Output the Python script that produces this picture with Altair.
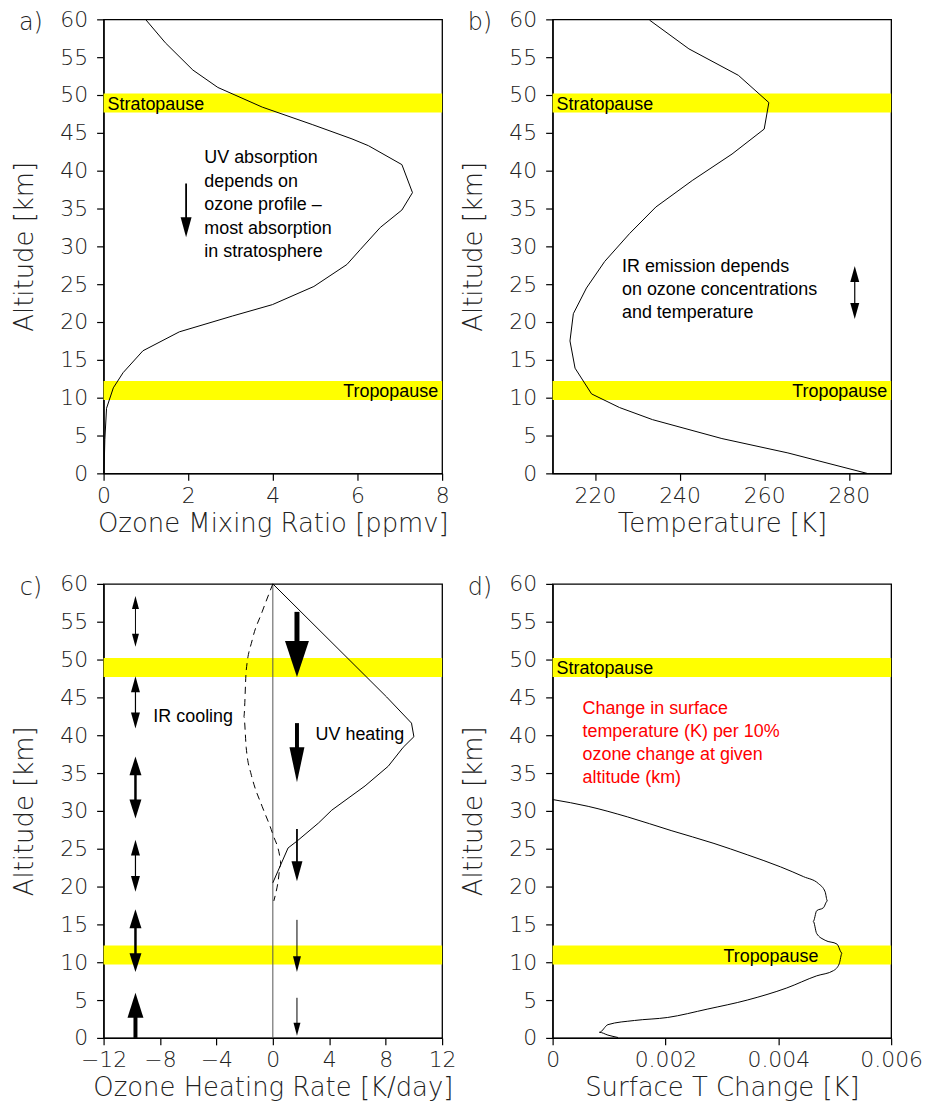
import altair as alt
import pandas as pd

# ------------------------------------------------------------------ data
# a) ozone mixing ratio profile
ozone_km = [60, 56.9, 53.3, 51.0, 48.4, 46.1, 44.2, 43.3, 40.8, 37.1, 34.8, 32.5,
            29.6, 27.6, 24.7, 22.3, 20.8, 18.7, 16.2, 13.3, 11.3, 8.6, 4.5, 0]
ozone_ppmv = [0.99, 1.46, 2.11, 2.70, 3.75, 4.93, 5.87, 6.26, 7.05, 7.30, 7.05, 6.54,
              6.07, 5.75, 4.97, 3.99, 3.05, 1.79, 0.93, 0.46, 0.23, 0.07, 0.03, 0.01]

# b) temperature profile
temp_km = [59.9, 56.1, 52.6, 49.0, 45.5, 42.2, 38.7, 35.2, 31.7, 28.0, 24.5, 21.1,
           17.5, 13.9, 10.5, 8.7, 7.1, 4.6, 2.7, 0]
temp_K = [232.9, 242.2, 253.9, 261.1, 260.0, 252.4, 243.0, 234.4, 228.2, 222.3, 218.0,
          214.9, 214.1, 215.3, 219.2, 225.8, 233.6, 250.0, 265.6, 284.3]

# c) ozone heating (UV, solid) and IR cooling (dashed)
uv_km = [60, 45.05, 41.6, 39.8, 38.4, 35.9, 33.3, 30.1, 28.4, 26.0, 25.1, 20.5]
uv_rate = [0.0, 8.07, 9.83, 10.0, 9.24, 8.18, 6.54, 4.18, 3.24, 1.71, 1.08, 0.0]
ir_km = [60, 56.3, 52.6, 48.5, 42.5, 38.4, 34.7, 33.5, 30.6, 26.9, 23.4, 22.8, 20.4, 18.1]
ir_rate = [0.0, -0.76, -1.46, -1.89, -2.05, -1.89, -1.52, -1.34, -0.76, 0.0, 0.54,
           0.55, 0.35, 0.07]

# d) surface temperature change per 10% ozone change
dts_km = [31.5, 30.6, 29.2, 27.4, 25.7, 24.2, 22.6, 21.3, 20.4, 19.3, 18.1, 17.2, 16.8,
          15.4, 13.8, 12.9, 12.4, 11.2, 9.8, 8.9, 8.2, 6.6, 5.0, 3.8, 2.7, 2.3, 1.75,
          0.74, 0.37, 0.05]
dts_K = [0.0, 0.00063, 0.00133, 0.0021, 0.00286, 0.00345, 0.00404, 0.00445, 0.00471,
         0.00483, 0.00487, 0.0048, 0.00468, 0.00462, 0.00468, 0.00483, 0.00504, 0.00513,
         0.00508, 0.00498, 0.00468, 0.00415, 0.00345, 0.00274, 0.00204, 0.00145,
         0.00098, 0.00083, 0.00098, 0.00116]

# layers
band_names = ["Stratopause", "Tropopause"]
band_lo = [47.7, 9.7]
band_hi = [50.2, 12.2]

# arrows: panel, x, top km, bottom km, heads, weight
arrow_panel = ["a", "b", "c", "c", "c", "c", "c", "c", "c", "c", "c", "c", "c"]
arrow_x = [1.95, 281.4, -9.74, -9.74, -9.74, -9.74, -9.74, -9.74, 1.71, 1.71, 1.71, 1.71, 1.71]
arrow_top = [38.3, 27.4, 58.4, 47.8, 37.2, 26.2, 17.0, 5.95, 56.3, 41.6, 27.6, 15.6, 5.3]
arrow_bottom = [31.2, 20.4, 51.7, 40.9, 29.0, 19.3, 8.7, 0.0, 47.7, 33.8, 20.7, 8.7, 0.3]
arrow_heads = ["down", "both", "both", "both", "both", "both", "both", "up",
               "down", "down", "down", "down", "down"]
arrow_weight = ["mid", "light", "fine", "light", "bold", "light", "bold", "up",
                "max", "heavy", "mid", "fine2", "fine"]

# annotation text
text_a = ["UV absorption", "depends on", "ozone profile \u2013", "most absorption", "in stratosphere"]
text_b = ["IR emission depends", "on ozone concentrations", "and temperature"]
text_d = ["Change in surface", "temperature (K) per 10%", "ozone change at given", "altitude (km)"]

# ------------------------------------------------------------------ style
W, H = 340, 456
KPP = 60.0 / H  # km per pixel
AX_FONT = "DejaVu Sans"
TXT_FONT = "Liberation Sans"
# weight -> (shaft width, head width, head length) in px
WEIGHTS = {
    "fine": (1.0, 7, 13), "fine2": (1.0, 8, 16), "light": (1.2, 9, 16),
    "mid": (1.8, 11, 20), "bold": (2.5, 12, 19), "up": (4.0, 16, 25),
    "heavy": (4.0, 15, 35), "max": (5.0, 24, 36),
}

bands = pd.DataFrame({"name": band_names, "lo": band_lo, "hi": band_hi})
bands["mid"] = (bands["lo"] + bands["hi"]) / 2


def arrow_frames(panel):
    shafts, heads = [], []
    for p, x, t, b, h, w in zip(arrow_panel, arrow_x, arrow_top, arrow_bottom,
                                arrow_heads, arrow_weight):
        if p != panel:
            continue
        sw, hw, hl = WEIGHTS[w]
        a = hw / hl
        top, bot = t, b
        if h in ("up", "both"):
            top = t - 0.6 * hl * KPP
            heads.append({"x": x, "y": t, "shape": f"M{-a},2L{a},2L0,0Z", "size": hl * hl})
        if h in ("down", "both"):
            bot = b + 0.6 * hl * KPP
            heads.append({"x": x, "y": b, "shape": f"M{-a},-2L{a},-2L0,0Z", "size": hl * hl})
        shafts.append({"x": x, "y": top, "y2": bot, "sw": sw})
    return pd.DataFrame(shafts), pd.DataFrame(heads)


def make_panel(letter, xdom, xvals, xtitle, xfmt=None, band_labels=True,
               trop_label_x=None):
    xaxis_kw = dict(values=xvals, title=xtitle)
    if xfmt:
        xaxis_kw["format"] = xfmt

    def X(field):
        return alt.X(field, type="quantitative",
                     scale=alt.Scale(domain=xdom, nice=False, zero=False),
                     axis=alt.Axis(**xaxis_kw))

    def Y(field):
        return alt.Y(field, type="quantitative",
                     scale=alt.Scale(domain=[0, 60], nice=False, zero=False),
                     axis=alt.Axis(values=list(range(0, 61, 5)), title="Altitude [km]"))

    layers = []
    layers.append(alt.Chart(bands).mark_rect(color="#ffff00").encode(
        y=Y("lo"), y2="hi"))
    if band_labels:
        strat = bands[bands.name == "Stratopause"]
        trop = bands[bands.name == "Tropopause"]
        layers.append(alt.Chart(strat).mark_text(
            align="left", baseline="middle", font=TXT_FONT, fontSize=18, color="black", dy=2
        ).encode(x=alt.value(4), y=Y("mid"), text="name:N"))
        if trop_label_x is None:
            layers.append(alt.Chart(trop).mark_text(
                align="right", baseline="middle", font=TXT_FONT, fontSize=18, color="black", dy=2
            ).encode(x=alt.value(W - 4), y=Y("mid"), text="name:N"))
        else:
            tr = trop.assign(xp=trop_label_x)
            layers.append(alt.Chart(tr).mark_text(
                align="right", baseline="middle", font=TXT_FONT, fontSize=18, color="black", dy=2
            ).encode(x=X("xp"), y=Y("mid"), text="name:N"))
    # panel letter
    layers.append(alt.Chart(pd.DataFrame({"t": [letter + ")"]})).mark_text(
        align="center", baseline="middle", font=AX_FONT, fontSize=24, fontWeight=200,
        color="#222").encode(x=alt.value(-73), y=alt.value(4), text="t:N"))
    return layers, X, Y


def add_arrows(layers, panel, X, Y):
    shafts, heads = arrow_frames(panel)
    layers.append(alt.Chart(shafts).mark_rule(color="black", strokeCap="butt").encode(
        x=X("x"), y=Y("y"), y2="y2", strokeWidth=alt.StrokeWidth("sw:Q", scale=None)))
    layers.append(alt.Chart(heads).mark_point(filled=True, color="black", opacity=1,
                                              strokeWidth=0).encode(
        x=X("x"), y=Y("y"), shape=alt.Shape("shape:N", scale=None),
        size=alt.Size("size:Q", scale=None)))


def ann(lines, x, top_km, X, Y, color="black", lh=23.5):
    df = pd.DataFrame({"t": ["\n".join(lines)], "x": [x], "y": [top_km]})
    return alt.Chart(df).mark_text(
        align="left", baseline="top", font=TXT_FONT, fontSize=18, color=color,
        lineBreak="\n", lineHeight=lh).encode(x=X("x"), y=Y("y"), text="t:N")


# ---- panel a
la, Xa, Ya = make_panel("a", [0, 8], [0, 2, 4, 6, 8], "Ozone Mixing Ratio [ppmv]")
da = pd.DataFrame({"km": ozone_km, "v": ozone_ppmv, "i": range(len(ozone_km))})
la.append(alt.Chart(da).mark_line(color="black", strokeWidth=1).encode(
    x=Xa("v"), y=Ya("km"), order="i:Q"))
la.append(ann(text_a, 2.38, 42.8, Xa, Ya))
add_arrows(la, "a", Xa, Ya)
pa = alt.layer(*la).properties(width=W, height=H)

# ---- panel b
lb, Xb, Yb = make_panel("b", [210, 290], [220, 240, 260, 280], "Temperature [K]")
db = pd.DataFrame({"km": temp_km, "v": temp_K, "i": range(len(temp_km))})
lb.append(alt.Chart(db).mark_line(color="black", strokeWidth=1).encode(
    x=Xb("v"), y=Yb("km"), order="i:Q"))
lb.append(ann(text_b, 226.4, 28.4, Xb, Yb, lh=23))
add_arrows(lb, "b", Xb, Yb)
pb = alt.layer(*lb).properties(width=W, height=H)

# ---- panel c
lc, Xc, Yc = make_panel("c", [-12, 12], list(range(-12, 13, 4)),
                        "Ozone Heating Rate [K/day]", band_labels=False)
lc.append(alt.Chart(pd.DataFrame({"x": [0], "y": [0], "y2": [60]})).mark_rule(
    color="#555", strokeWidth=1).encode(x=Xc("x"), y=Yc("y"), y2="y2"))
dc1 = pd.DataFrame({"km": uv_km, "v": uv_rate, "i": range(len(uv_km))})
dc2 = pd.DataFrame({"km": ir_km, "v": ir_rate, "i": range(len(ir_km))})
lc.append(alt.Chart(dc2).mark_line(color="black", strokeWidth=1, strokeDash=[7, 5],
                                   interpolate="monotone").encode(
    x=Xc("v"), y=Yc("km"), order="i:Q"))
lc.append(alt.Chart(dc1).mark_line(color="black", strokeWidth=1).encode(
    x=Xc("v"), y=Yc("km"), order="i:Q"))
lc.append(alt.Chart(pd.DataFrame({"t": ["IR cooling"], "x": [-8.47], "y": [42.4]})).mark_text(
    align="left", baseline="middle", font=TXT_FONT, fontSize=18, color="black").encode(
    x=Xc("x"), y=Yc("y"), text="t:N"))
lc.append(alt.Chart(pd.DataFrame({"t": ["UV heating"], "x": [3.03], "y": [40.0]})).mark_text(
    align="left", baseline="middle", font=TXT_FONT, fontSize=18, color="black").encode(
    x=Xc("x"), y=Yc("y"), text="t:N"))
add_arrows(lc, "c", Xc, Yc)
pc = alt.layer(*lc).properties(width=W, height=H)

# ---- panel d
ld, Xd, Yd = make_panel("d", [0, 0.006], [0, 0.002, 0.004, 0.006],
                        "Surface T Change [K]", xfmt="~g", trop_label_x=0.00471)
dd = pd.DataFrame({"km": dts_km, "v": dts_K, "i": range(len(dts_km))})
ld.append(alt.Chart(dd).mark_line(color="black", strokeWidth=1, interpolate="monotone").encode(
    x=Xd("v"), y=Yd("km"), order="i:Q"))
ld.append(ann(text_d, 0.00053, 44.7, Xd, Yd, color="#ff0000", lh=23.4))
pd_ = alt.layer(*ld).properties(width=W, height=H)

chart = alt.concat(
    pa, pb, pc, pd_, columns=2, spacing={"row": 35, "column": 3}
).properties(
    padding={"left": 3, "top": -3, "right": 0, "bottom": 0}
).configure_view(
    stroke="black", strokeWidth=1.3
).configure_axis(
    labelFont=AX_FONT, labelFontSize=22, labelFontWeight=200, labelColor="#222",
    titleFont=AX_FONT, titleFontSize=26, titleFontWeight=200, titleColor="#222",
    tickSize=7, tickColor="black", tickWidth=1.2, domainColor="black", domainWidth=1.3,
    grid=False, labelOverlap=False, labelFlush=False,
).configure_axisY(
    labelPadding=9, titlePadding=22
).configure_axisX(
    labelPadding=5, titlePadding=4
)

chart.save("out.html", embed_options={"renderer": "svg", "actions": False})
